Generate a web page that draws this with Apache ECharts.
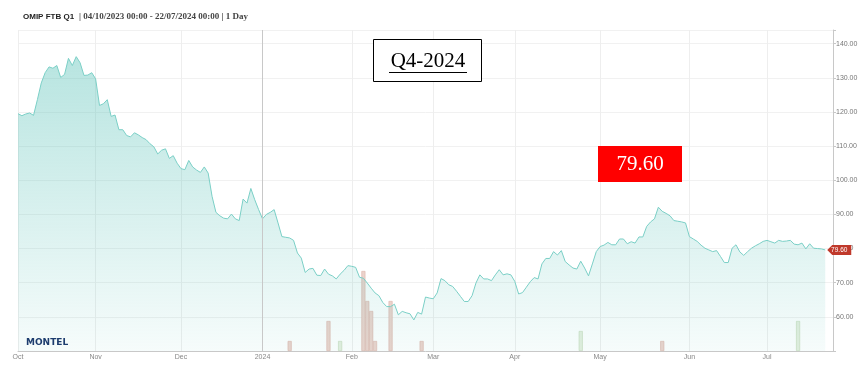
<!DOCTYPE html>
<html>
<head>
<meta charset="utf-8">
<script src="https://cdn.jsdelivr.net/npm/echarts@6/dist/echarts.min.js"></script>
<style>
html, body { margin: 0; padding: 0; background: #fff; }
#chart { width: 865px; height: 377px; }
</style>
</head>
<body>
<div id="chart"></div>
<script>
// trading days (weekdays) from first to last quote, axis runs two days past the end
const firstDay = '2023-10-04';
const axisEnd = '2024-07-24';

// daily close, 04/10/2023 -> 22/07/2024
const prices = [
    119.5, 118.9, 119.4, 119.7, 119.0, 123.6, 128.5, 131.5, 133.2, 132.8,
    133.6, 130.1, 131.0, 135.7, 133.6, 136.2, 134.4, 130.7, 130.8, 131.5,
    129.7, 121.9, 122.4, 123.6, 118.7, 119.1, 114.8, 114.8, 113.1, 112.7,
    113.9, 113.3, 112.5, 111.9, 110.7, 109.8, 107.7, 108.8, 109.2, 106.4,
    107.2, 105.0, 103.4, 103.1, 105.8, 103.9, 103.0, 102.3, 103.9, 102.1,
    95.3, 90.6, 89.6, 88.9, 88.7, 90.1, 88.7, 88.2, 94.5, 93.3,
    97.6, 94.3, 91.4, 88.7, 90.0, 90.6, 91.4, 87.5, 83.5, 83.3,
    83.1, 82.4, 78.7, 77.2, 73.0, 74.0, 74.2, 72.2, 72.1, 74.0,
    72.5, 72.0, 71.1, 72.5, 73.6, 75.0, 74.8, 74.5, 71.6, 71.3,
    69.9, 68.4, 67.0, 66.2, 64.2, 63.0, 63.0, 63.7, 60.6, 61.6,
    61.2, 60.9, 59.1, 61.3, 60.8, 65.8, 65.5, 65.3, 67.0, 71.2,
    70.6, 69.4, 68.9, 67.5, 66.0, 64.5, 64.5, 66.2, 69.9, 72.3,
    71.1, 71.1, 70.6, 72.3, 73.8, 72.3, 72.6, 72.3, 70.4, 66.7,
    67.1, 68.7, 70.3, 71.5, 71.1, 75.5, 77.1, 77.1, 79.1, 78.1,
    79.4, 76.2, 75.2, 74.3, 74.0, 76.3, 74.3, 72.0, 75.5, 79.1,
    80.6, 81.0, 81.8, 81.1, 81.1, 82.8, 82.8, 81.4, 82.0, 81.6,
    83.4, 83.4, 86.5, 87.8, 88.7, 92.1, 90.9, 90.3, 89.6, 88.2,
    88.0, 87.8, 87.5, 83.5, 82.8, 82.1, 81.0, 80.1, 79.6, 79.1,
    79.4, 77.7, 75.9, 75.9, 80.1, 81.1, 79.0, 78.0, 79.1, 80.1,
    80.8, 81.4, 82.1, 82.4, 82.0, 81.6, 82.4, 82.1, 82.2, 82.4,
    81.3, 81.1, 81.6, 79.9, 81.4, 80.1, 80.0, 79.9, 79.6
];

// traded volume, split by day direction
const downDates = ['2024-01-10', '2024-01-24', '2024-02-06', '2024-02-07', '2024-02-08', '2024-02-09', '2024-02-15', '2024-02-27', '2024-05-23'];
const downVolumes = [1, 3, 8, 5, 4, 1, 5, 1, 1];
const upDates = ['2024-01-29', '2024-04-24', '2024-07-11'];
const upVolumes = [1, 2, 3];

const monthNames = ['Jan', 'Feb', 'Mar', 'Apr', 'May', 'Jun', 'Jul', 'Aug', 'Sep', 'Oct', 'Nov', 'Dec'];

function tradingDays(from, to) {
    let out = [];
    let d = new Date(from + 'T00:00:00Z');
    let end = new Date(to + 'T00:00:00Z');
    while (d <= end) {
        let wd = d.getUTCDay();
        if (wd !== 0 && wd !== 6) out.push(d.toISOString().slice(0, 10));
        d.setUTCDate(d.getUTCDate() + 1);
    }
    return out;
}

const dates = tradingDays(firstDay, axisEnd);

function volumeSeriesData(ds, vs) {
    return dates.map((d) => {
        let k = ds.indexOf(d);
        return k >= 0 ? vs[k] : null;
    });
}

// first trading day of each month gets a label and a grid line
function isMonthStart(idx) {
    if (idx === 0) return true;
    return dates[idx].slice(5, 7) !== dates[idx - 1].slice(5, 7);
}

let chart = echarts.init(document.getElementById('chart'));
let last = prices.length - 1;

let option = {
    animation: false,
    title: {
        text: '{b|OMIP FTB Q1} {s|| 04/10/2023 00:00 - 22/07/2024 00:00 | 1 Day}',
        left: 23,
        top: 8,
        padding: 0,
        textStyle: {
            rich: {
                b: { fontFamily: 'Liberation Sans', fontWeight: 'bold', fontSize: 8, color: '#222' },
                s: { fontFamily: 'Liberation Serif', fontSize: 9, color: '#444' }
            }
        }
    },
    grid: { left: 18, right: 32, top: 30, bottom: 26, containLabel: false },
    xAxis: {
        type: 'category',
        data: dates,
        boundaryGap: false,
        axisLine: { lineStyle: { color: '#c8c8c8' } },
        axisTick: { show: false },
        axisLabel: {
            interval: (idx) => isMonthStart(idx),
            fontSize: 7,
            color: '#888',
            margin: 3,
            fontFamily: 'Liberation Sans',
            formatter: (v) => {
                let m = parseInt(v.slice(5, 7), 10) - 1;
                return m === 0 ? v.slice(0, 4) : monthNames[m];
            }
        },
        splitLine: {
            show: true,
            interval: (idx) => isMonthStart(idx),
            lineStyle: { color: '#eeeeee' }
        }
    },
    yAxis: [
        {
            type: 'value',
            position: 'right',
            min: 50,
            max: 144,
            interval: 10,
            axisLine: { show: true, lineStyle: { color: '#c8c8c8' } },
            axisTick: { show: true, length: 3, lineStyle: { color: '#c8c8c8' } },
            axisLabel: {
                fontSize: 7,
                color: '#777',
                margin: 3,
                fontFamily: 'Liberation Sans',
                formatter: (v) => (v > 55 && v < 142 ? v.toFixed(2) : '')
            },
            splitLine: { lineStyle: { color: '#f1f1f1' } }
        },
        { type: 'value', min: 0, max: 32.1, show: false }
    ],
    series: [
        {
            type: 'bar',
            yAxisIndex: 1,
            barWidth: 4,
            data: volumeSeriesData(downDates, downVolumes),
            itemStyle: { color: '#ecd3cc', borderColor: '#dcb2a7', borderWidth: 0.6 }
        },
        {
            type: 'bar',
            yAxisIndex: 1,
            barWidth: 4,
            barGap: '-100%',
            data: volumeSeriesData(upDates, upVolumes),
            itemStyle: { color: '#e4efde', borderColor: '#c4d9b9', borderWidth: 0.6 }
        },
        {
            type: 'line',
            data: prices,
            showSymbol: false,
            lineStyle: { color: '#7acfc6', width: 1 },
            areaStyle: {
                color: new echarts.graphic.LinearGradient(0, 0, 0, 1, [
                    { offset: 0, color: 'rgba(90,194,184,0.62)' },
                    { offset: 1, color: 'rgba(90,194,184,0.08)' }
                ])
            },
            markLine: {
                silent: true,
                symbol: 'none',
                label: { show: false },
                lineStyle: { color: '#c8c8c8', type: 'solid', width: 1 },
                data: [{ xAxis: '2024-01-01' }]
            },
            markPoint: {
                symbol: 'path://M0,5L5,0L24,0L24,10L5,10Z',
                symbolSize: [24, 10],
                symbolOffset: [14, 0],
                itemStyle: { color: '#c0392b' },
                label: {
                    show: true,
                    color: '#fff',
                    fontSize: 6.5,
                    fontFamily: 'Liberation Sans',
                    formatter: (p) => p.value.toFixed(2)
                },
                data: [{ coord: [dates[last], prices[last]], value: prices[last] }]
            }
        }
    ],
    graphic: [
        {
            type: 'rect', z: 100,
            shape: { x: 373.5, y: 39.5, width: 108, height: 42 },
            style: { fill: '#fff', stroke: '#000', lineWidth: 1 }
        },
        {
            type: 'text', z: 101, x: 428, y: 61,
            style: { text: 'Q4-2024', align: 'center', verticalAlign: 'middle', font: '21px "Liberation Serif"', fill: '#000' }
        },
        {
            type: 'line', z: 101,
            shape: { x1: 389, y1: 72.5, x2: 467, y2: 72.5 },
            style: { stroke: '#000', lineWidth: 1 }
        },
        {
            type: 'rect', z: 100,
            shape: { x: 598, y: 146, width: 84, height: 36 },
            style: { fill: '#ff0000' }
        },
        {
            type: 'text', z: 101, x: 640, y: 164,
            style: { text: '79.60', align: 'center', verticalAlign: 'middle', font: '21px "Liberation Serif"', fill: '#fff' }
        },
        {
            type: 'text', z: 101, x: 26, y: 343,
            style: { text: 'MONTEL', verticalAlign: 'middle', font: 'bold 9px "DejaVu Sans"', fill: '#1d3c6e' }
        }
    ]
};
chart.setOption(option);
</script>
</body>
</html>
